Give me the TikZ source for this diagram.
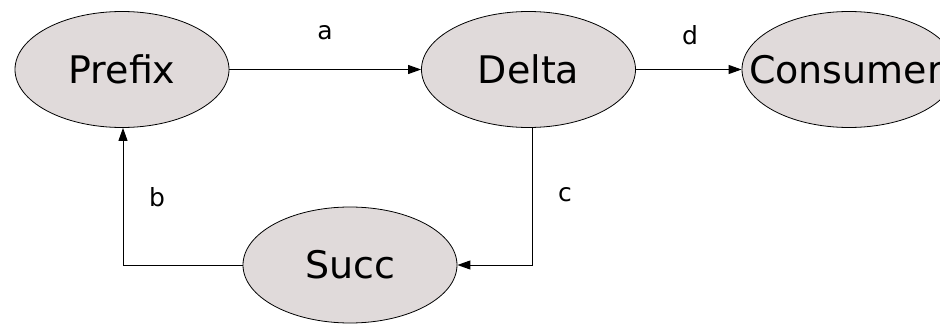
\documentclass[tikz,border=0pt]{standalone}
\usepackage{fontspec}
\setmainfont{DejaVu Sans}
\usetikzlibrary{shapes.geometric,arrows.meta}
\definecolor{nodefill}{HTML}{E0DADA}
\begin{document}
\begin{tikzpicture}[x=1pt,y=-1pt,
  proc/.style={ellipse,draw=black,line width=0.8pt,fill=nodefill,minimum width=214pt,minimum height=116pt,inner sep=0pt,font=\fontsize{38}{40}\selectfont},
  conn/.style={line width=1pt,-{Triangle[length=13pt,width=9pt]}},
  lbl/.style={font=\fontsize{25}{27}\selectfont,inner sep=0pt}]
\useasboundingbox (0,0) rectangle (940,324);
\node[proc] (prefix) at (122,69.5) {Prefix};
\node[proc] (delta) at (528.5,69.5) {Delta};
\node[proc] (consumer) at (849,69.5) {\makebox[0pt]{Consumer\hspace{6pt}}};
\node[proc] (succ) at (350,265) {Succ};
\coordinate (bc) at (123,265);
\coordinate (cc) at (532,265);
\draw[conn] (prefix.east) -- (delta.west);
\draw[conn] (delta.east) -- (consumer.west);
\draw[conn] (succ.west) -- (bc) -- (prefix.south -| bc);
\draw[conn] (delta.south -| cc) -- (cc) -- (succ.east);
\node[lbl] (la) at (325,33) {a};
\node[lbl] (ld) at (690,35) {d};
\node[lbl] (lb) at (157,197) {b};
\node[lbl] (lc) at (565,195) {c};
\end{tikzpicture}
\end{document}
